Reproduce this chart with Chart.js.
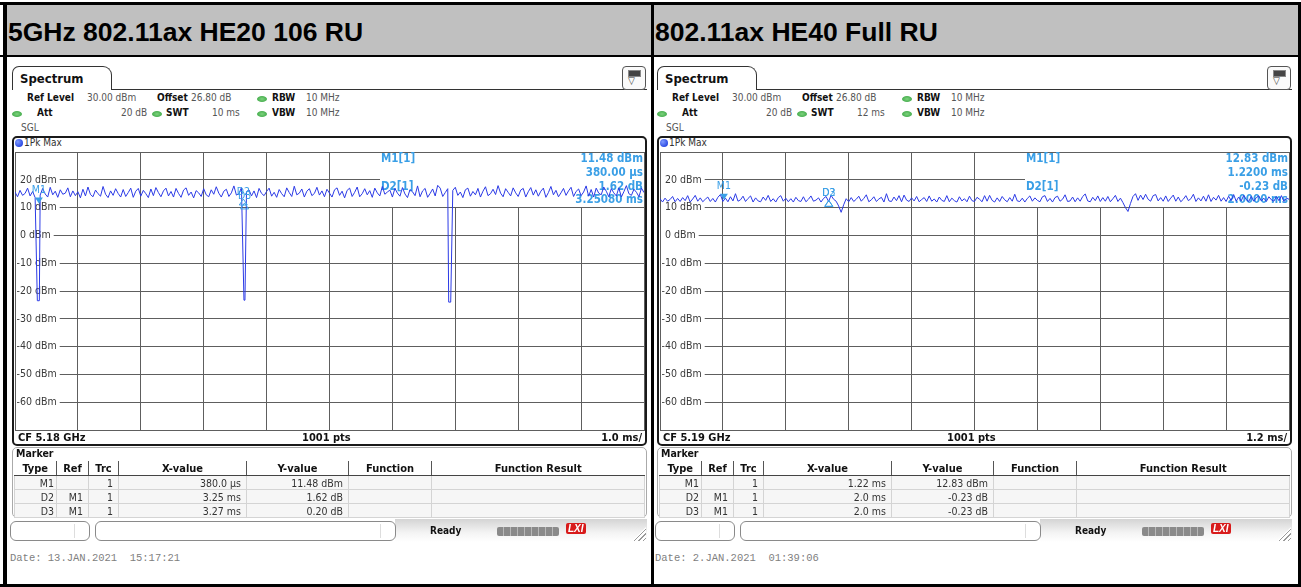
<!DOCTYPE html>
<html>
<head>
<meta charset="utf-8">
<script src="https://cdn.jsdelivr.net/npm/chart.js@4.4.1/dist/chart.umd.min.js"></script>
<style>
body { margin: 0; background: #fff; }
#page { position: relative; width: 1301px; height: 587px; overflow: hidden; background: #fff;
        font-family: "DejaVu Sans Condensed", "DejaVu Sans", sans-serif; color: #222; }
.a { position: absolute; white-space: pre; }
.blk { position: absolute; background: #000; }
.title { position: absolute; top: 5px; height: 50px; background: #c0c0c0; font: bold 26.5px "Liberation Sans", Arial, sans-serif;
         line-height: 54px; color: #000; padding-left: 1px; box-sizing: border-box; }
.tab { position: absolute; top: 66px; width: 100px; height: 24px; border: 1.5px solid #333; border-bottom: none;
       border-radius: 7px 9px 0 0; box-sizing: border-box; }
.lbl { font-weight: bold; font-size: 10px; color: #111; }
.val { font-size: 10px; color: #555; }
.dot { position: absolute; width: 10px; height: 6px; border-radius: 50%; background: radial-gradient(#7ed37e, #2f9e3a); }
.frame { position: absolute; top: 136px; width: 635px; height: 310px; border: 2px solid #1a1a1a; border-radius: 5px; box-sizing: border-box; }
.mpanel { position: absolute; top: 447px; width: 635px; height: 71px; border: 1px solid #aaa; border-radius: 5px; box-sizing: border-box; }
table.mk { position: absolute; top: 461px; border-collapse: collapse; table-layout: fixed; font-size: 10.5px; color: #333; }
table.mk th { height: 14px; font-weight: bold; border-right: 1px solid #555; border-bottom: 1px solid #444; padding: 0; text-align: center; color: #111; font-size: 11px; }
table.mk td { height: 13px; border: 1px solid #d4d4d4; text-align: right; padding: 0 5px 0 0; background: #f6f6f6; line-height: 12px; }
.box { position: absolute; top: 521px; height: 20px; border: 1px solid #8a8a8a; border-radius: 6px; box-sizing: border-box; }
.date { font: 10.5px "Liberation Mono", monospace; color: #808080; }
</style>
</head>
<body>
<div id="page"></div>
<script>
// ---- data ----
const titles = ['5GHz 802.11ax HE20 106 RU', '802.11ax HE40 Full RU'];
const yMin = -70, yMax = 30;
const xTicksL = [0, 1, 2, 3, 4, 5, 6, 7, 8, 9, 10];              // 1.0 ms/div
const xTicksR = [0, 1.2, 2.4, 3.6, 4.8, 6, 7.2, 8.4, 9.6, 10.8, 12]; // 1.2 ms/div
const stepL = 0.04, stepR = 0.048;

// 1Pk Max trace, dBm
const traceL = [
  15.6,13.9,16.2,14.4,15.1,17.0,14.2,15.8,13.6,16.1,14.5,16.9,14.9,13.8,17.3,14.6,15.9,13.7,16.4,14.8,15.2,17.1,13.9,16.0,14.3,
  15.7,13.5,16.6,14.2,17.4,14.7,13.9,16.3,15.0,14.1,17.6,14.8,13.6,16.0,14.4,16.8,15.1,13.8,16.5,14.0,15.4,17.0,13.7,15.9,16.9,
  14.1,16.2,15.0,13.6,16.7,14.3,17.2,15.4,13.9,16.0,17.0,14.2,15.8,13.8,16.9,15.1,13.7,16.3,17.1,14.4,15.6,13.5,16.1,15.3,14.0,
  16.8,14.6,13.9,16.4,14.8,17.5,15.2,13.8,15.9,16.6,14.0,15.3,17.8,14.5,15.0,17.2,13.9,15.7,16.4,14.2,16.0,13.6,16.9,15.1,14.3,
  15.8,17.0,14.1,15.5,13.7,16.5,15.0,13.9,17.1,15.4,14.0,17.7,14.6,15.2,16.7,13.8,15.9,16.8,14.3,15.1,17.3,14.5,16.0,13.9,16.6,
  15.2,13.8,16.4,17.1,14.4,15.9,13.5,16.2,17.0,14.0,15.5,17.4,13.9,15.0,16.8,14.6,16.1,13.7,17.0,15.3,14.2,17.6,14.8,15.6,16.3,
  13.8,16.9,15.2,14.1,17.2,14.9,13.6,16.5,15.7,14.3,17.8,13.9,16.0,16.9,13.7,15.1,16.7,14.2,18.0,17.0,14.0,15.4,16.8,14.5,16.2,
  17.3,14.4,15.6,13.6,16.4,17.0,14.1,15.8,14.6,16.9,13.8,15.9,17.5,14.3,15.0,16.6,14.7,17.9,15.2,13.9,16.8,15.5,14.2,17.1,15.3,
  14.0,16.3,16.9,13.8,15.7,17.2,14.5,16.4,14.1,15.9,17.0,13.7,15.4,17.6,14.6,16.2,13.9,15.3,16.9,14.4,16.0,17.3,14.0,15.8,16.7,
  14.3,15.6,17.8,14.1,16.5,13.8,17.0,15.2,14.6,17.4,15.9,13.9,16.8,15.3,14.2,17.1,13.8,15.7,17.9,15.0,14.4,16.6,15.5,13.9,17.0,
  15.4
];
const traceR = [
  13.2,12.0,13.4,12.3,12.9,14.0,12.1,13.3,12.2,13.6,12.5,14.3,12.0,13.1,14.4,12.3,13.5,12.1,13.0,13.8,12.2,13.3,12.0,13.7,14.7,
  12.2,13.4,12.1,13.9,12.4,15.0,12.3,12.8,14.1,12.2,13.3,14.2,12.0,13.5,12.4,12.1,13.8,12.6,14.4,12.2,13.2,12.0,13.6,14.3,12.3,
  13.4,12.1,13.2,12.0,13.7,12.5,12.2,13.9,12.1,13.0,14.2,12.3,12.7,13.5,12.0,13.3,14.0,12.2,14.4,13.0,12.3,10.6,8.3,11.0,13.2,
  12.1,13.6,12.2,13.0,14.1,12.3,13.3,14.6,12.1,12.8,13.9,12.2,13.1,13.7,12.0,15.0,12.4,12.2,13.8,12.5,14.3,12.1,14.5,12.7,12.2,
  13.5,12.4,14.0,12.1,12.9,13.6,12.2,14.2,12.3,13.1,12.0,13.8,12.6,12.2,14.3,12.1,13.4,12.5,12.0,13.9,12.4,13.2,12.1,14.1,12.5,
  12.2,13.7,13.0,12.1,14.3,12.3,14.4,12.6,12.0,13.5,12.2,14.0,12.8,12.1,13.6,12.3,14.8,12.4,12.2,13.4,12.0,13.3,14.2,12.3,13.5,
  12.6,12.1,13.9,14.3,12.2,13.3,12.0,13.6,14.1,12.3,13.0,14.6,12.2,12.4,13.8,12.1,13.5,12.3,14.0,14.9,12.4,12.1,13.7,12.5,14.2,
  12.2,13.6,12.3,14.0,12.1,13.2,14.4,12.2,13.4,11.8,10.0,8.6,11.5,14.0,15.0,12.6,14.5,12.9,14.8,13.0,12.3,14.3,14.7,12.4,13.6,
  12.3,14.2,12.2,13.4,14.5,12.3,13.8,12.1,13.0,14.3,12.5,13.2,14.8,12.2,13.5,12.4,14.1,12.3,14.6,12.2,13.7,12.7,14.4,12.3,13.6,
  12.2,14.1,12.5,14.7,12.3,13.8,12.4,14.4,12.9,12.2,14.0,12.3,13.6,14.2,12.4,13.4,12.2,13.9,12.8,12.3,14.0,12.5,14.3,12.2,13.4,
  13.0
];
// transmission gaps: [start ms, end ms, level dBm]
const dipsL = [[0.355, 0.387, -23.5], [3.640, 3.656, -23.3], [6.895, 6.927, -24.0]];
const dipsR = [];

// markers
const markerNamesL = ['M1', 'D2', 'D3'];
const markerTimesL = [0.38, 3.63, 3.65];
const markerLevelsL = [11.48, 13.10, 11.68];
const markerNamesR = ['M1', 'D2', 'D3'];
const markerTimesR = [1.22, 3.22, 3.22];
const markerLevelsR = [12.83, 12.60, 12.60];
const infoL = ['M1[1]', '11.48 dBm', '380.00 µs', 'D2[1]', '1.62 dB', '3.25080 ms'];
const infoR = ['M1[1]', '12.83 dBm', '1.2200 ms', 'D2[1]', '-0.23 dB', '2.0000 ms'];

// marker table
const tblRefsL = ['', 'M1', 'M1'];
const tblXL = ['380.0 µs', '3.25 ms', '3.27 ms'];
const tblYL = ['11.48 dBm', '1.62 dB', '0.20 dB'];
const tblRefsR = ['', 'M1', 'M1'];
const tblXR = ['1.22 ms', '2.0 ms', '2.0 ms'];
const tblYR = ['12.83 dBm', '-0.23 dB', '-0.23 dB'];

// instrument settings
const swt = ['10 ms', '12 ms'];
const cf = ['CF 5.18 GHz', 'CF 5.19 GHz'];
const perDiv = ['1.0 ms/', '1.2 ms/'];
const dates = ['Date: 13.JAN.2021  15:17:21', 'Date: 2.JAN.2021  01:39:06'];

const page = document.getElementById('page');

function add(html) {
    page.insertAdjacentHTML('beforeend', html);
}

function txt(x, y, s, cls, extra) {
    add(`<div class="a ${cls || ''}" style="left:${x}px;top:${y}px;${extra || ''}">${s}</div>`);
}

// outer borders
add('<div class="blk" style="left:0;top:2px;width:1301px;height:3px"></div>');
add('<div class="blk" style="left:3px;top:2px;width:4px;height:585px"></div>');
add('<div class="blk" style="left:1298px;top:2px;width:3px;height:585px"></div>');
add('<div class="blk" style="left:0;top:584px;width:1301px;height:3px"></div>');
add('<div class="blk" style="left:651px;top:2px;width:3px;height:585px"></div>');
add('<div class="blk" style="left:0;top:55px;width:1301px;height:2px"></div>');

function buildPanel(p, o) {
    add(`<div class="title" style="left:${o === 0 ? 7 : 654}px;width:644px">${titles[p]}</div>`);

    // tab + header
    add(`<div class="tab" style="left:${12 + o}px"></div>`);
    txt(20 + o, 71, 'Spectrum', '', 'font-weight:bold;font-size:13px;color:#111');
    add(`<div class="blk" style="left:${112 + o}px;top:89px;width:535px;height:1px;background:#333"></div>`);
    add(`<div class="a" style="left:${622 + o}px;top:66px;width:24px;height:24px;border:1px solid #555;border-radius:4px;box-sizing:border-box;background:#fafafa"></div>`);
    add(`<div class="a" style="left:${628 + o}px;top:70px;width:11px;height:5px;background:#444;border:1px solid #888"></div>`);
    txt(628 + o, 75, '▽', '', 'font-size:10px;color:#333');

    txt(27 + o, 92, 'Ref Level', 'lbl');
    txt(87 + o, 92, '30.00 dBm', 'val');
    txt(157 + o, 92, 'Offset', 'lbl');
    txt(191 + o, 92, '26.80 dB', 'val');
    add(`<div class="dot" style="left:${257 + o}px;top:96px"></div>`);
    txt(272 + o, 92, 'RBW', 'lbl');
    txt(306 + o, 92, '10 MHz', 'val');

    add(`<div class="dot" style="left:${12 + o}px;top:111px"></div>`);
    txt(37 + o, 107, 'Att', 'lbl');
    txt(121 + o, 107, '20 dB', 'val');
    add(`<div class="dot" style="left:${152 + o}px;top:111px"></div>`);
    txt(166 + o, 107, 'SWT', 'lbl');
    txt(212 + o, 107, swt[p], 'val');
    add(`<div class="dot" style="left:${257 + o}px;top:111px"></div>`);
    txt(272 + o, 107, 'VBW', 'lbl');
    txt(306 + o, 107, '10 MHz', 'val');
    txt(21 + o, 122, 'SGL', 'val');

    // diagram frame
    add(`<div class="frame" style="left:${12 + o}px"></div>`);
    add(`<div class="a" style="left:${15 + o}px;top:139px;width:8px;height:8px;border-radius:50%;background:radial-gradient(circle at 35% 35%,#7f9bff,#0b2ad8)"></div>`);
    txt(24 + o, 137, '1Pk Max', 'val', 'color:#333');
    add(`<canvas id="c${p}" class="a" width="632" height="281" style="left:${14 + o}px;top:151px"></canvas>`);
    txt(18 + o, 431, cf[p], 'lbl', 'font-size:11px');
    txt(302 + o, 431, '1001 pts', 'lbl', 'font-size:11px');
    txt(582 + o, 431, perDiv[p], 'lbl', 'font-size:11px;width:60px;text-align:right');

    // marker table
    add(`<div class="mpanel" style="left:${12 + o}px"></div>`);
    txt(16 + o, 447, 'Marker', 'lbl', 'font-size:10.5px');
    const refs = p === 0 ? tblRefsL : tblRefsR;
    const xs = p === 0 ? tblXL : tblXR;
    const ys = p === 0 ? tblYL : tblYR;
    const names = p === 0 ? markerNamesL : markerNamesR;
    let rows = '';
    for (let i = 0; i < names.length; i++) {
        rows += `<tr><td style="padding-right:2px">${names[i]}</td><td>${refs[i]}</td><td>1</td><td>${xs[i]}</td><td>${ys[i]}</td><td></td><td></td></tr>`;
    }
    add(`<table class="mk" style="left:${14 + o}px;width:630px">
      <colgroup><col style="width:42px"><col style="width:32px"><col style="width:30px"><col style="width:128px"><col style="width:102px"><col style="width:83px"><col style="width:213px"></colgroup>
      <tr><th>Type</th><th>Ref</th><th>Trc</th><th>X-value</th><th>Y-value</th><th>Function</th><th style="border-right:none">Function Result</th></tr>
      ${rows}</table>`);

    // status bar
    add(`<div class="a" style="left:${395 + o}px;top:519px;width:252px;height:23px;background:linear-gradient(#d4d4d4,#f4f4f4 60%,#fff)"></div>`);
    add(`<div class="box" style="left:${10 + o}px;width:80px"></div>`);
    add(`<div class="a" style="left:${74 + o}px;top:524px;width:1px;height:14px;background:#ddd"></div>`);
    add(`<div class="box" style="left:${95 + o}px;width:301px"></div>`);
    add(`<div class="a" style="left:${380 + o}px;top:524px;width:1px;height:14px;background:#ddd"></div>`);
    txt(430 + o, 525, 'Ready', 'lbl');
    add(`<div class="a" style="left:${497 + o}px;top:527px;width:62px;height:9px;border-radius:2px;background:repeating-linear-gradient(90deg,#8a8a8a 0 6px,#b8b8b8 6px 7px)"></div>`);
    txt(566 + o, 523, 'LXI', '', 'font:bold italic 10px sans-serif;color:#fff;background:#d81b1b;border-radius:2px;padding:0 2px');
    add(`<div class="a" style="left:${632 + o}px;top:527px;width:14px;height:14px;clip-path:polygon(100% 0,100% 100%,0 100%);background:repeating-linear-gradient(135deg,#fff 0 2px,#9a9a9a 2px 3px)"></div>`);

    txt(10 + o, 552, dates[p], 'date');
}

buildPanel(0, 0);
buildPanel(1, 645);

function buildPoints(trace, step, dips) {
    let pts = trace.map((v, i) => ({ x: +(i * step).toFixed(3), y: v }));
    dips.forEach(d => {
        pts = pts.filter(pt => pt.x < d[0] || pt.x > d[1]);
        pts.push({ x: d[0], y: d[2] }, { x: d[1], y: d[2] });
    });
    return pts.sort((a, b) => a.x - b.x);
}

const mkColor = '#3a9fe6';

function makeOverlay(info, names, times, levels) {
    return {
        id: 'specOverlay',
        beforeDatasetsDraw(chart) {
            const ctx = chart.ctx, ca = chart.chartArea, ys = chart.scales.y;
            ctx.save();
            // level labels inside the grid
            ctx.font = '10.5px "DejaVu Sans Condensed", "DejaVu Sans", sans-serif';
            ctx.textBaseline = 'middle';
            for (let v = 20; v >= -60; v -= 10) {
                const y = ys.getPixelForValue(v);
                const s = v + ' dBm';
                const x0 = ca.left + 5 - (v < 0 ? ctx.measureText('-').width : 0);
                const w = ctx.measureText(s).width;
                ctx.fillStyle = '#fff';
                ctx.fillRect(ca.left + 1, y - 6, x0 + w + 2 - ca.left, 12);
                ctx.fillStyle = '#3a3a3a';
                ctx.fillText(s, x0, y);
            }
            // marker info box
            const bx = ca.left + 365;
            ctx.fillStyle = '#fff';
            ctx.fillRect(bx, ca.top + 1, ca.right - bx, 54);
            ctx.font = 'bold 11.5px "DejaVu Sans Condensed", "DejaVu Sans", sans-serif';
            ctx.fillStyle = mkColor;
            ctx.textAlign = 'left';
            ctx.fillText(info[0], bx + 1, ca.top + 7);
            ctx.fillText(info[3], bx + 1, ca.top + 35);
            ctx.textAlign = 'right';
            ctx.fillText(info[1], ca.right - 1, ca.top + 7);
            ctx.fillText(info[2], ca.right - 1, ca.top + 21);
            ctx.fillText(info[4], ca.right - 1, ca.top + 35);
            ctx.fillText(info[5], ca.right - 1, ca.top + 48);
            ctx.restore();
        },
        afterDatasetsDraw(chart) {
            const ctx = chart.ctx, xs = chart.scales.x, ys = chart.scales.y;
            ctx.save();
            ctx.font = '10.5px "DejaVu Sans Condensed", "DejaVu Sans", sans-serif';
            ctx.textAlign = 'center';
            ctx.textBaseline = 'middle';
            ctx.strokeStyle = mkColor;
            ctx.fillStyle = mkColor;
            ctx.lineWidth = 1;
            names.forEach((n, i) => {
                const x = xs.getPixelForValue(times[i]);
                const y = ys.getPixelForValue(levels[i]);
                ctx.beginPath();
                if (n[0] === 'M') {
                    ctx.moveTo(x, y); ctx.lineTo(x - 4, y - 6); ctx.lineTo(x + 4, y - 6); ctx.closePath();
                    ctx.fill();
                    ctx.fillText(n, x, y - 13);
                } else {
                    ctx.moveTo(x, y); ctx.lineTo(x - 4, y + 6); ctx.lineTo(x + 4, y + 6); ctx.closePath();
                    ctx.stroke();
                    ctx.fillText(n, x, y - 7);
                }
            });
            ctx.restore();
        }
    };
}

function makeChart(id, points, xTicks, overlay) {
    const gridOpts = { color: '#5e5e5e', lineWidth: 1, drawTicks: false };
    return new Chart(document.getElementById(id), {
        type: 'line',
        data: {
            datasets: [{ data: points, borderColor: '#2b3ae6', borderWidth: 1, pointRadius: 0, tension: 0 }]
        },
        options: {
            responsive: false,
            animation: false,
            events: [],
            layout: { padding: { left: 1, right: 2, top: 1, bottom: 2 } },
            plugins: { legend: { display: false }, tooltip: { enabled: false } },
            scales: {
                x: {
                    type: 'linear',
                    min: xTicks[0],
                    max: xTicks[xTicks.length - 1],
                    afterBuildTicks: axis => { axis.ticks = xTicks.map(v => ({ value: v })); },
                    ticks: { display: false },
                    grid: gridOpts,
                    border: { color: '#5e5e5e' }
                },
                y: {
                    min: yMin,
                    max: yMax,
                    ticks: { display: false, stepSize: 10 },
                    grid: gridOpts,
                    border: { color: '#5e5e5e' }
                }
            }
        },
        plugins: [overlay]
    });
}

makeChart('c0', buildPoints(traceL, stepL, dipsL), xTicksL,
    makeOverlay(infoL, markerNamesL, markerTimesL, markerLevelsL));
makeChart('c1', buildPoints(traceR, stepR, dipsR), xTicksR,
    makeOverlay(infoR, markerNamesR, markerTimesR, markerLevelsR));
</script>
</body>
</html>
